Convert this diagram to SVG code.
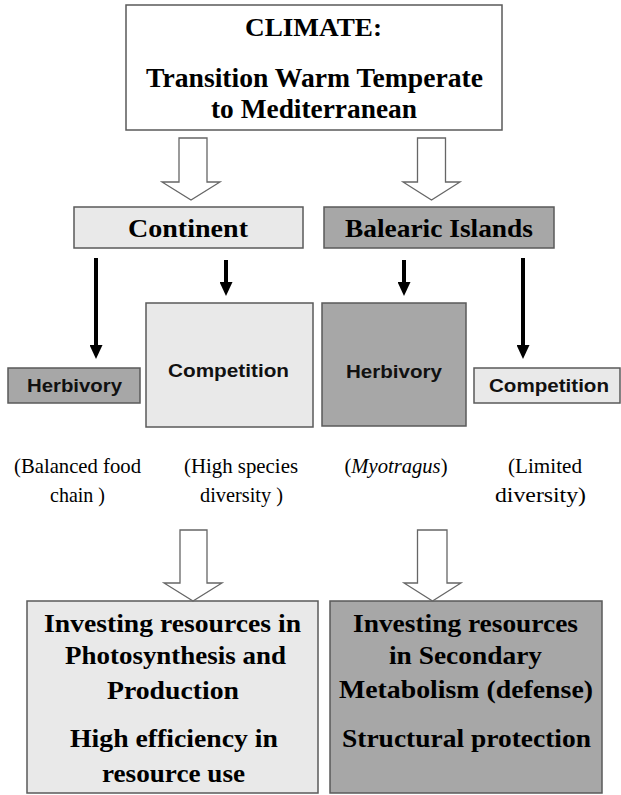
<svg xmlns="http://www.w3.org/2000/svg" width="621" height="795" viewBox="0 0 621 795">
<defs>
<style>
.bg{fill:#ffffff}
.box{stroke:#5a5a5a;stroke-width:1.5}
.light{fill:#e9e9e9}
.dark{fill:#a7a7a7}
.white{fill:#ffffff}
.serifb{font-family:'Liberation Serif','DejaVu Serif',serif;font-weight:bold;fill:#000;text-anchor:middle}
.serif{font-family:'Liberation Serif','DejaVu Serif',serif;font-weight:normal;fill:#000;text-anchor:middle;font-size:21px}
.sans{font-family:'Liberation Sans','DejaVu Sans',sans-serif;font-weight:bold;fill:#111;text-anchor:middle;font-size:19px}
.hollow{fill:#ffffff;stroke:#666;stroke-width:1.3}
.solid{stroke:#000;stroke-width:4;fill:none}
</style>
<marker id="head" viewBox="0 0 14 13" refX="0" refY="6.5" markerWidth="14" markerHeight="13" markerUnits="userSpaceOnUse" orient="auto">
<path d="M0,0 L14,6.5 L0,13 Z" fill="#000"/>
</marker>
</defs>
<rect class="bg" x="0" y="0" width="621" height="795"/>

<g id="climate">
<rect class="box white" x="126" y="5" width="376" height="125"/>
<text class="serifb" x="313.5" y="36" font-size="26" textLength="137" lengthAdjust="spacingAndGlyphs">CLIMATE:</text>
<text class="serifb" x="314.5" y="87" font-size="28" textLength="337" lengthAdjust="spacingAndGlyphs">Transition Warm Temperate</text>
<text class="serifb" x="314" y="118" font-size="28" textLength="206" lengthAdjust="spacingAndGlyphs">to Mediterranean</text>
</g>

<g id="continent">
<rect class="box light" x="74" y="207" width="229" height="41"/>
<text class="serifb" x="188" y="237" font-size="26" textLength="120" lengthAdjust="spacingAndGlyphs">Continent</text>
</g>

<g id="balearic">
<rect class="box dark" x="324" y="207" width="230" height="41"/>
<text class="serifb" x="439" y="237" font-size="26" textLength="188" lengthAdjust="spacingAndGlyphs">Balearic Islands</text>
</g>

<g id="herbivory-continent">
<rect class="box dark" x="8" y="368" width="132" height="35"/>
<text class="sans" x="74.5" y="392" textLength="95" lengthAdjust="spacingAndGlyphs">Herbivory</text>
</g>

<g id="competition-continent">
<rect class="box light" x="146" y="303" width="167" height="124"/>
<text class="sans" x="228.5" y="377" textLength="121" lengthAdjust="spacingAndGlyphs">Competition</text>
</g>

<g id="herbivory-balearic">
<rect class="box dark" x="322" y="303" width="144" height="123"/>
<text class="sans" x="394" y="378" textLength="96" lengthAdjust="spacingAndGlyphs">Herbivory</text>
</g>

<g id="competition-balearic">
<rect class="box light" x="474" y="368" width="146" height="35"/>
<text class="sans" x="549" y="392" textLength="120" lengthAdjust="spacingAndGlyphs">Competition</text>
</g>

<g id="note-balanced">
<text class="serif" x="77.5" y="473" textLength="127" lengthAdjust="spacingAndGlyphs">(Balanced food</text>
<text class="serif" x="77.5" y="502" textLength="55" lengthAdjust="spacingAndGlyphs">chain )</text>
</g>

<g id="note-high">
<text class="serif" x="241" y="473" textLength="114" lengthAdjust="spacingAndGlyphs">(High species</text>
<text class="serif" x="241.5" y="502" textLength="83" lengthAdjust="spacingAndGlyphs">diversity )</text>
</g>

<g id="note-myotragus">
<text class="serif" x="396" y="473" textLength="103" lengthAdjust="spacingAndGlyphs">(<tspan font-style="italic">Myotragus</tspan>)</text>
</g>

<g id="note-limited">
<text class="serif" x="545" y="473" textLength="74" lengthAdjust="spacingAndGlyphs">(Limited</text>
<text class="serif" x="540.5" y="502" textLength="91" lengthAdjust="spacingAndGlyphs">diversity)</text>
</g>

<g id="result-continent">
<rect class="box light" x="27" y="601" width="291" height="192"/>
<text class="serifb" x="172.5" y="632" font-size="26" textLength="257" lengthAdjust="spacingAndGlyphs">Investing resources  in</text>
<text class="serifb" x="175.5" y="664" font-size="26" textLength="221" lengthAdjust="spacingAndGlyphs">Photosynthesis and</text>
<text class="serifb" x="173" y="699" font-size="26" textLength="132" lengthAdjust="spacingAndGlyphs">Production</text>
<text class="serifb" x="174" y="747" font-size="26" textLength="208" lengthAdjust="spacingAndGlyphs">High efficiency in</text>
<text class="serifb" x="173.5" y="782" font-size="26" textLength="143" lengthAdjust="spacingAndGlyphs">resource use</text>
</g>

<g id="result-balearic">
<rect class="box dark" x="330" y="601" width="272" height="192"/>
<text class="serifb" x="465.5" y="632" font-size="26" textLength="225" lengthAdjust="spacingAndGlyphs">Investing resources</text>
<text class="serifb" x="465.5" y="664" font-size="26" textLength="153" lengthAdjust="spacingAndGlyphs">in Secondary</text>
<text class="serifb" x="466" y="698" font-size="26" textLength="254" lengthAdjust="spacingAndGlyphs">Metabolism (defense)</text>
<text class="serifb" x="466.5" y="747" font-size="26" textLength="249" lengthAdjust="spacingAndGlyphs">Structural protection</text>
</g>

<g id="connectors">
<polygon class="hollow" points="179,138 207,138 207,182 220,182 191,200 162,182 179,182"/>
<polygon class="hollow" points="417.5,138 445.5,138 445.5,182 460,182 431.5,200 403,182 417.5,182"/>
<polygon class="hollow" points="180,530 207,530 207,583 222,583 193,601 164,583 180,583"/>
<polygon class="hollow" points="417.5,530 447,530 447,583 461,583 432.5,601 404,583 417.5,583"/>
<line class="solid" x1="96" y1="258" x2="96" y2="345" marker-end="url(#head)"/>
<line class="solid" x1="226" y1="260" x2="226" y2="282" marker-end="url(#head)"/>
<line class="solid" x1="404" y1="260" x2="404" y2="282" marker-end="url(#head)"/>
<line class="solid" x1="523" y1="258" x2="523" y2="345" marker-end="url(#head)"/>
</g>
</svg>
